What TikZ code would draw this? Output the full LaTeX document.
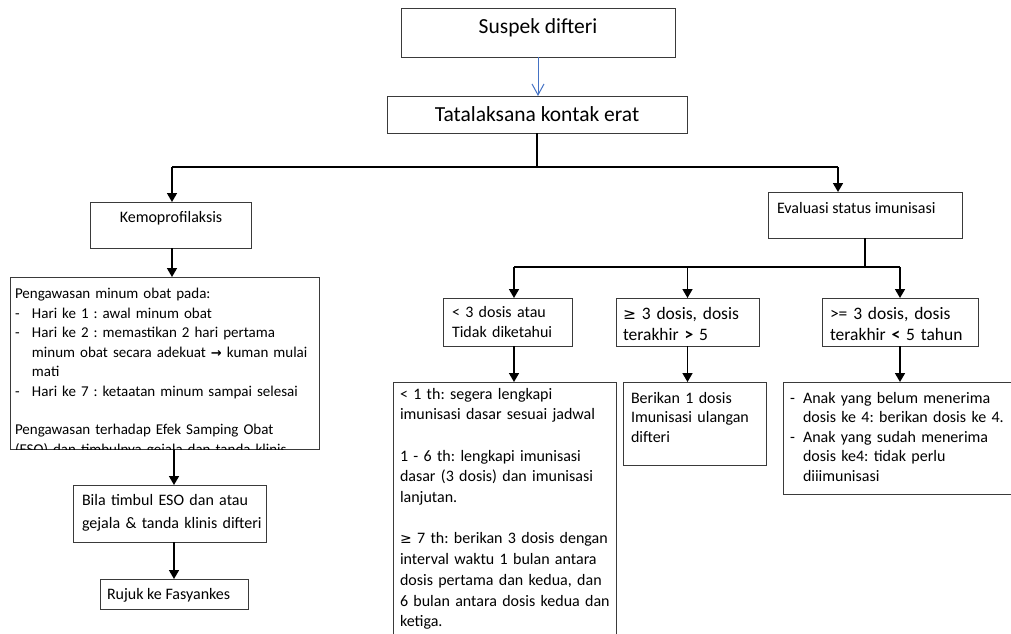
\documentclass[tikz,border=0pt]{standalone}
\usepackage{fontspec}
\setmainfont{Carlito}
\newfontfamily\symf{DejaVu Sans}
\usetikzlibrary{arrows.meta,fit}
\definecolor{arrowblue}{HTML}{4472C4}
\definecolor{boxline}{HTML}{3A3A3A}
\frenchspacing
\newcommand\fsz[2]{\fontsize{#1pt}{#2pt}\selectfont}
\newcommand\itemdash[1]{\makebox[#1][l]{-}}
% rectangle node spanning two corner points
\newcommand\mkbox[5]{\path (#2,#3) coordinate (#1-a) (#4,#5) coordinate (#1-b);
  \node[box, fit=(#1-a)(#1-b)] (#1) {};}
\begin{document}
\begin{tikzpicture}[x=1pt,y=-1pt,
  box/.style={draw=boxline, line width=0.9pt, inner sep=0pt, outer sep=0pt},
  conn/.style={line width=1.6pt, black},
  arr/.style={conn, -{Triangle[length=9pt,width=10pt]}},
  bluearr/.style={arrowblue, line width=1pt, -{Straight Barb[length=11pt,width=12pt]}},
  txt/.style={inner sep=0pt, outer sep=0pt, align=left, text width=#1, anchor=north west},
  lbl/.style={inner sep=0pt, outer sep=0pt}
]
\clip (0,0) rectangle (1011,633);

% boxes
\mkbox{sus}{401}{8}{675}{57}
\mkbox{tk}{387}{96}{687}{133}
\mkbox{kemo}{90}{202}{251}{248}
\mkbox{obs}{10}{277}{319}{449}
\mkbox{bila}{73}{485}{266}{542}
\mkbox{rujuk}{100}{579}{248}{609}
\mkbox{eval}{768}{192}{962}{238}
\mkbox{lt}{443}{298}{572}{346}
\mkbox{ge}{616}{298}{759}{346}
\mkbox{gt}{822}{298}{978}{346}
\mkbox{mid}{393}{382}{616}{660}
\mkbox{ber}{623}{382}{766}{465}
\mkbox{rb}{783}{382}{1040}{494}

% labels
\node[lbl, anchor=base, font=\fsz{21.5}{26}] (t-sus) at (538,33) {Suspek difteri};
\node[lbl, anchor=base, font=\fsz{21.5}{26}] (t-tk) at (537,121) {Tatalaksana kontak erat};
\node[lbl, anchor=base, font=\fsz{16}{19.5}] (t-kemo) at (171,222) {Kemoprofilaksis};
\node[lbl, anchor=base west, font=\fsz{16}{19.5}] (t-eval) at (777,213) {Evaluasi status imunisasi};
\node[lbl, anchor=base west, font=\fsz{16}{19.5}] (t-rujuk) at (107,599) {Rujuk ke Fasyankes};

\begin{scope}
  \clip (obs-a) rectangle (obs-b);
  \node[txt=320pt, font=\fsz{15}{19.45}] (t-obs) at (15,285.2) {\strut Pengawasan minum obat pada:\\
    \itemdash{17pt}Hari ke 1 : awal minum obat\\
    \itemdash{17pt}Hari ke 2 : memastikan 2 hari pertama\\
    \hspace*{17pt}minum obat secara adekuat {\symf\bfseries\fsz{13}{19.45}→} kuman mulai\\
    \hspace*{17pt}mati\\
    \itemdash{17pt}Hari ke 7 : ketaatan minum sampai selesai\\[19.45pt]
    Pengawasan terhadap Efek Samping Obat\\
    (ESO) dan timbulnya gejala dan tanda klinis};
\end{scope}

\node[txt=200pt, font=\fsz{16}{23}] (t-bila) at (82,489.5) {\strut Bila timbul ESO dan atau\\ gejala \& tanda klinis difteri};

\node[txt=140pt, font=\fsz{16}{20}] (t-lt) at (452,303.5) {\strut < 3 dosis atau\\ Tidak diketahui};
\node[txt=160pt, font=\fsz{17.5}{21}] (t-ge) at (623,305.2) {\strut {\symf\fsz{15.5}{21}≥} 3 dosis, dosis\\ terakhir \textbf{>} 5};
\node[txt=170pt, font=\fsz{17.5}{21}] (t-gt) at (830,305.2) {\strut >= 3 dosis, dosis\\ terakhir \textbf{<} 5 tahun};

\node[txt=240pt, font=\fsz{16}{20.7}] (t-mid) at (400,384.5) {\strut < 1 th: segera lengkapi\\
  imunisasi dasar sesuai jadwal\\[20.7pt]
  1 - 6 th: lengkapi imunisasi\\
  dasar (3 dosis) dan imunisasi\\
  lanjutan.\\[20.7pt]
  {\symf\fsz{14}{20.7}≥} 7 th: berikan 3 dosis dengan\\
  interval waktu 1 bulan antara\\
  dosis pertama dan kedua, dan\\
  6 bulan antara dosis kedua dan\\
  ketiga.};

\node[txt=160pt, font=\fsz{16}{19.5}] (t-ber) at (631,389.4) {\strut Berikan 1 dosis\\ Imunisasi ulangan\\ difteri};
\node[txt=240pt, font=\fsz{16}{19.5}] (t-rb) at (790,389.4) {\strut\itemdash{13pt}Anak yang belum menerima\\
  \hspace*{13pt}dosis ke 4: berikan dosis ke 4.\\
  \itemdash{13pt}Anak yang sudah menerima\\
  \hspace*{13pt}dosis ke4: tidak perlu\\
  \hspace*{13pt}diiimunisasi};

% bus junctions and column positions
\coordinate (busL) at (172,167);
\coordinate (busR) at (838,167);
\coordinate (colL) at (174,0);
\coordinate (bus2L) at (514,267);
\coordinate (bus2R) at (900,267);

% connectors
\draw[bluearr] (sus.south) -- (sus.south |- tk.north);
\draw[conn] (tk.south) -- (tk.south |- busL);
\draw[conn] (busL) -- (busR);
\draw[arr] (busL) -- (busL |- kemo.north);
\draw[arr] (busR) -- (busR |- eval.north);
\draw[arr] (busL |- kemo.south) -- (busL |- obs.north);
\draw[arr] (colL |- obs.south) -- (colL |- bila.north);
\draw[arr] (colL |- bila.south) -- (colL |- rujuk.north);

\draw[conn] (eval.south) -- (eval.south |- bus2L);
\draw[conn] (bus2L) -- (bus2R);
\draw[arr] (bus2L) -- (bus2L |- lt.north);
\draw[arr] (ge.north |- bus2L) -- (ge.north);
\draw[arr] (bus2R) -- (bus2R |- gt.north);
\draw[arr] (bus2L |- lt.south) -- (bus2L |- mid.north);
\draw[arr] (ge.south) -- (ge.south |- ber.north);
\draw[arr] (bus2R |- gt.south) -- (bus2R |- rb.north);
\end{tikzpicture}
\end{document}
